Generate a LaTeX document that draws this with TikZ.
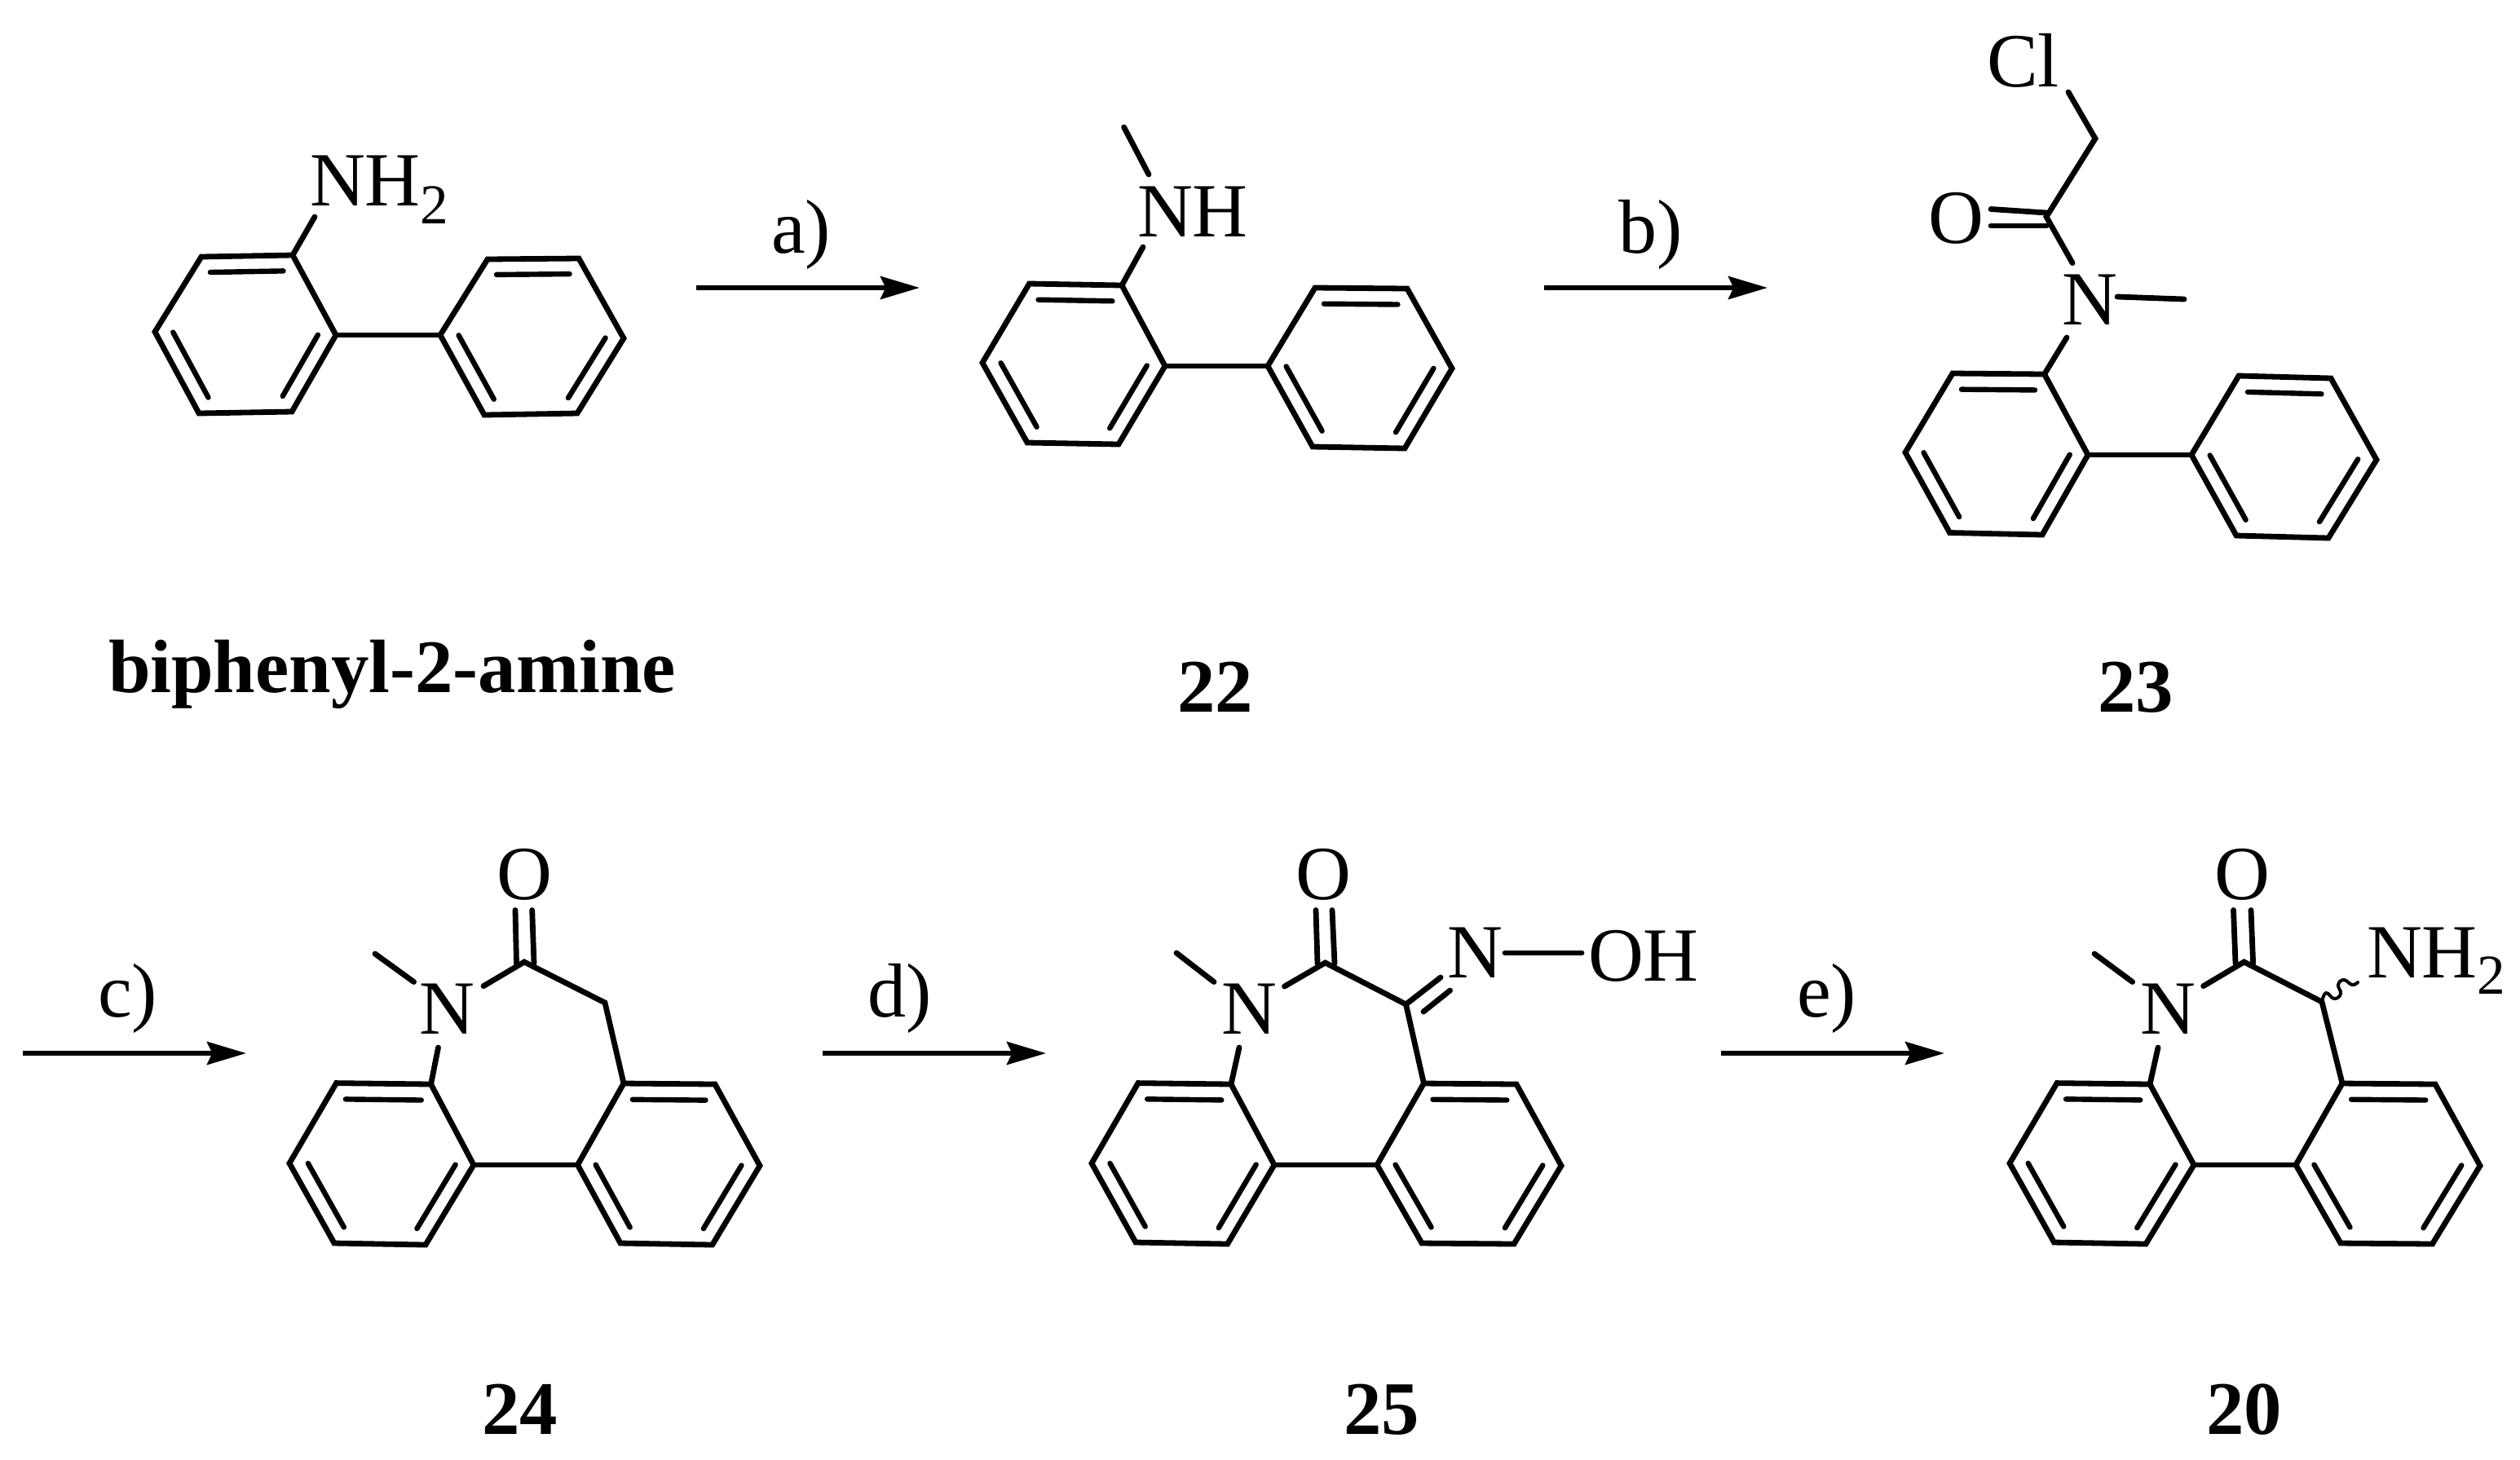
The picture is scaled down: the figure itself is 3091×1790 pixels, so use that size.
\documentclass[tikz,border=0pt]{standalone}
\usepackage{fontspec}
\setmainfont{Liberation Serif}
\usetikzlibrary{calc,arrows.meta}
\tikzset{
  bond/.style={line width=1.7pt,line cap=round,line join=miter},
  dblbond/.style={line width=1.6pt,line cap=round},
  wavybond/.style={line width=1pt,line cap=round},
  rxn/.style={line width=1.5pt,-{Stealth[length=12pt,width=7pt,inset=1.6pt]}},
  atom/.style={inner sep=0pt,outer sep=0pt,anchor=base west,font=\fontsize{23.5}{28}\selectfont},
  cmpd/.style={inner sep=0pt,outer sep=0pt,anchor=base west,font=\fontsize{23.2}{28}\selectfont\bfseries},
}
\newcommand{\subtwo}[1]{\raisebox{#1}{\fontsize{17.3}{20}\selectfont 2}}
\newcommand{\benzring}[7]{%
  \coordinate (#1a) at (#2);\coordinate (#1b) at (#3);\coordinate (#1c) at (#4);
  \coordinate (#1d) at (#5);\coordinate (#1e) at (#6);\coordinate (#1f) at (#7);
  \coordinate (#1o) at ($(#1a)!.5!(#1d)$);
  \draw[bond] (#1a)--(#1b)--(#1c)--(#1d)--(#1e)--(#1f)--cycle;
  \draw[dblbond] ($(#1a)!.2!(#1o)$)--($(#1b)!.2!(#1o)$);
  \draw[dblbond] ($(#1c)!.2!(#1o)$)--($(#1d)!.2!(#1o)$);
  \draw[dblbond] ($(#1e)!.2!(#1o)$)--($(#1f)!.2!(#1o)$);
}
\begin{document}
\begin{tikzpicture}[x=0.25pt,y=-0.25pt]
\useasboundingbox (0,0) rectangle (3091,1790);
% biphenyl-2-amine
\benzring{pa}{359,313}{247,315}{190,407}{244,507}{358,505}{412,411}
\benzring{pb}{598,318}{710,317}{765,415}{708,507}{594,509}{540,411}
\draw[bond] (paf)--(pbf);
\node[atom] (nh2a) at (380,252) {NH\subtwo{-5.5pt}};
\coordinate (nh2ae) at (386,266);
\draw[bond] (paa)--(nh2ae);
\node[cmpd] (lbp) at (133,849) {biphenyl-2-amine};
% 22
\benzring{qa}{1376,350}{1262.5,348}{1205,445}{1260,543}{1372,545}{1429,449}
\benzring{qb}{1613,353}{1726,354}{1781,452}{1723,550}{1610,548}{1555,449}
\draw[bond] (qaf)--(qbf);
\node[atom] (nh) at (1395,290) {NH};
\coordinate (qn1) at (1402,303);\coordinate (qn2) at (1409,214);\coordinate (qme) at (1378.6,156);
\draw[bond] (qaa)--(qn1);
\draw[bond] (qn2)--(qme);
\node[cmpd] (l22) at (1444,873) {22};
% 23
\benzring{ra}{2507.6,459}{2395,458}{2337,555}{2391.5,653.5}{2505,656}{2561,558}
\benzring{rb}{2746,461}{2859,464}{2915,564}{2856,660}{2743,657}{2688,558}
\draw[bond] (raf)--(rbf);
\node[atom] (rcl) at (2437,106.5) {Cl};
\node[atom] (ro) at (2365,298) {O};
\node[atom] (rn) at (2529,398) {N};
\coordinate (rc1) at (2537,113);\coordinate (rch) at (2570,170);\coordinate (rco) at (2510,266);
\coordinate (ro1) at (2442,256.5);\coordinate (ro1e) at (2510,261);
\coordinate (ro2) at (2442,277);\coordinate (ro2e) at (2510,277);
\coordinate (rn1) at (2542,322.6);\coordinate (rn2) at (2597,364);\coordinate (rme) at (2679,367);
\coordinate (rn3) at (2535,414);
\draw[bond] (rc1)--(rch)--(rco)--(rn1);
\draw[bond] (ro1)--(ro1e);
\draw[bond] (ro2)--(ro2e);
\draw[bond] (rn2)--(rme);
\draw[bond] (raa)--(rn3);
\node[cmpd] (l23) at (2573,873) {23};
% 24
\benzring{sa}{528.6,1330}{412.5,1328.6}{355,1427}{410,1525}{522,1527}{581,1429}
\benzring{sb}{765,1329}{877,1330}{932,1430}{873.7,1527}{761,1525}{708.5,1429}
\draw[bond] (saf)--(sbf);
\node[atom] (sn) at (514,1268) {N};
\node[atom] (so) at (609,1103) {O};
\coordinate (sme) at (460,1170);\coordinate (sn1) at (507.6,1204.5);
\coordinate (sn2) at (593,1209.6);\coordinate (sc) at (643,1180);\coordinate (sch) at (742,1230);
\coordinate (sn3) at (537.5,1285);
\coordinate (so1) at (632,1116.5);\coordinate (so1e) at (633.5,1182);
\coordinate (so2) at (652.7,1116.5);\coordinate (so2e) at (655,1182);
\draw[bond] (sme)--(sn1);
\draw[bond] (sn2)--(sc)--(sch)--(sba);
\draw[bond] (sn3)--(saa);
\draw[bond] (so1)--(so1e);
\draw[bond] (so2)--(so2e);
\node[cmpd] (l24) at (591,1759) {24};
% 25
\benzring{ta}{1510,1330}{1396,1328.6}{1339,1427}{1393,1524}{1505.6,1526}{1563,1429}
\benzring{tb}{1746.4,1329}{1860,1330}{1915,1430}{1857,1526}{1744,1525}{1689,1429}
\draw[bond] (taf)--(tbf);
\node[atom] (tn) at (1498,1268) {N};
\node[atom] (to) at (1589,1103) {O};
\node[atom] (tn2) at (1775,1199) {N};
\node[atom] (toh) at (1948,1203) {OH};
\coordinate (tme) at (1443,1169);\coordinate (tn1) at (1489,1204.5);
\coordinate (tn3) at (1575.5,1210);\coordinate (tc) at (1625.5,1181);\coordinate (tcn) at (1724.5,1232);
\coordinate (tn4) at (1520,1285);
\coordinate (to1) at (1614,1116.5);\coordinate (to1e) at (1616,1182);
\coordinate (to2) at (1634,1116.5);\coordinate (to2e) at (1637,1182);
\coordinate (tx1) at (1767,1199);\coordinate (tx2) at (1746,1241);\coordinate (tx2e) at (1778.6,1215);
\coordinate (tno) at (1846,1169);\coordinate (tnoe) at (1940,1169);
\draw[bond] (tme)--(tn1);
\draw[bond] (tn3)--(tc)--(tcn)--(tba);
\draw[bond] (tn4)--(taa);
\draw[bond] (to1)--(to1e);
\draw[bond] (to2)--(to2e);
\draw[bond] (tcn)--(tx1);
\draw[bond] (tx2)--(tx2e);
\draw[bond] (tno)--(tnoe);
\node[cmpd] (l25) at (1648,1759) {25};
% 20
\benzring{ua}{2637,1330}{2523,1328.6}{2465,1427}{2519.5,1524}{2632,1526}{2691,1429}
\benzring{ub}{2873,1329}{2987,1330}{3042,1430}{2983.5,1526}{2871,1525}{2816,1429}
\draw[bond] (uaf)--(ubf);
\node[atom] (un) at (2625,1268) {N};
\node[atom] (uo) at (2716,1103) {O};
\node[atom] (unh) at (2903,1199) {NH\subtwo{-5pt}};
\coordinate (ume) at (2569,1170);\coordinate (un1) at (2615.6,1204.5);
\coordinate (un2) at (2702.6,1209.6);\coordinate (uc) at (2752.5,1180);\coordinate (uch) at (2848,1229);
\coordinate (un3) at (2647,1285);
\coordinate (uo1) at (2739.5,1116.5);\coordinate (uo1e) at (2742,1182);
\coordinate (uo2) at (2761,1116.5);\coordinate (uo2e) at (2763.6,1182);
\draw[bond] (ume)--(un1);
\draw[bond] (un2)--(uc)--(uch)--(uba);
\draw[bond] (un3)--(uaa);
\draw[bond] (uo1)--(uo1e);
\draw[bond] (uo2)--(uo2e);
\draw[wavybond] plot[smooth,tension=.8] coordinates {(uch) (2853,1218) (2863,1225) (2871,1219) (2868,1208) (2875,1202) (2885,1208) (2892,1205)};
\node[cmpd] (l20) at (2706,1759) {20};
% arrows
\coordinate (a1) at (854,353);\coordinate (a2) at (1128,353);
\coordinate (b1) at (1894,353);\coordinate (b2) at (2168,353);
\coordinate (c1) at (28,1292);\coordinate (c2) at (302,1292);
\coordinate (d1) at (1009,1292);\coordinate (d2) at (1283,1292);
\coordinate (e1) at (2111,1292);\coordinate (e2) at (2385,1292);
\draw[rxn] (a1)--(a2);
\draw[rxn] (b1)--(b2);
\draw[rxn] (c1)--(c2);
\draw[rxn] (d1)--(d2);
\draw[rxn] (e1)--(e2);
\node[atom] (la) at (946,310) {a)};
\node[atom] (lb) at (1985,310) {b)};
\node[atom] (lc) at (120,1247) {c)};
\node[atom] (ld) at (1064,1247) {d)};
\node[atom] (le) at (2204,1247) {e)};
\end{tikzpicture}
\end{document}
